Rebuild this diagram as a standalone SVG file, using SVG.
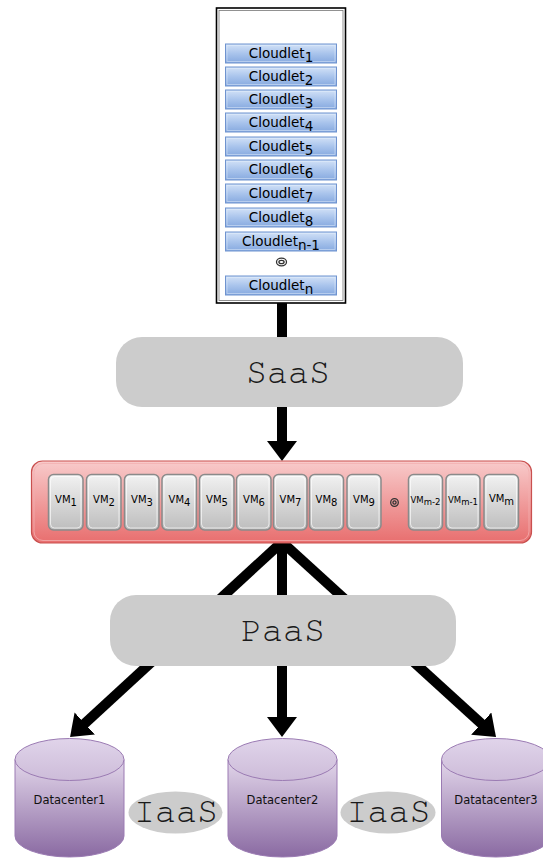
<svg xmlns="http://www.w3.org/2000/svg" width="543" height="858" viewBox="0 0 543 858">
  <defs>
    <linearGradient id="gCloudlet" x1="0" y1="0" x2="0" y2="1">
      <stop offset="0" stop-color="#d3e2f7"/>
      <stop offset="0.5" stop-color="#a9c4ec"/>
      <stop offset="1" stop-color="#86a9df"/>
    </linearGradient>
    <linearGradient id="gVmBar" x1="0" y1="0" x2="0" y2="1">
      <stop offset="0" stop-color="#f8cbcb"/>
      <stop offset="1" stop-color="#e86e6e"/>
    </linearGradient>
    <linearGradient id="gVm" x1="0" y1="0" x2="0" y2="1">
      <stop offset="0" stop-color="#f2f2f2"/>
      <stop offset="1" stop-color="#bdbdbd"/>
    </linearGradient>
    <linearGradient id="gDisk" x1="0" y1="0" x2="0" y2="1">
      <stop offset="0" stop-color="#e2d6ea"/>
      <stop offset="1" stop-color="#8a6aa2"/>
    </linearGradient>
    <linearGradient id="gDiskTop" x1="0" y1="0" x2="0" y2="1">
      <stop offset="0" stop-color="#e0d4ea"/>
      <stop offset="1" stop-color="#cdbcd9"/>
    </linearGradient>
    <!-- arrowhead: 30 wide, 20 long; the shaft stops 10px short of the tip -->
    <marker id="head" viewBox="0 0 20 30" refX="10" refY="15" markerWidth="2" markerHeight="3" markerUnits="strokeWidth" orient="auto">
      <path d="M0,0 L20,15 L0,30 Z" fill="#000"/>
    </marker>
    <style>
      .cl { fill: url(#gCloudlet); stroke: #6f93cf; stroke-width: 1; }
      .cli { fill: none; stroke: #e4eefb; stroke-width: 0.7; opacity: 0.7; }
      .clt { font-family: "DejaVu Sans", Verdana, sans-serif; font-size: 13.5px; fill: #000; text-anchor: middle; }
      .vm { fill: url(#gVm); stroke: #8a8a8a; stroke-width: 1.5; }
      .vmi { fill: none; stroke: #ffffff; stroke-width: 0.8; opacity: 0.8; }
      .vmt { font-family: "DejaVu Sans", Verdana, sans-serif; font-size: 10px; fill: #000; text-anchor: middle; }
      .vms { font-size: 8.5px; }
      .band { fill: #cccccc; }
      .mono { font-family: "FreeMono", "Nimbus Mono PS", "Courier New", "Liberation Mono", monospace; font-size: 35px; fill: #1a1a1a; text-anchor: middle; }
      .disk { fill: url(#gDisk); stroke: #9b7bb3; stroke-width: 1; }
      .diskTop { fill: url(#gDiskTop); stroke: #9b7bb3; stroke-width: 1; }
      .dct { font-family: "DejaVu Sans", Verdana, sans-serif; font-size: 11.5px; fill: #111; text-anchor: middle; }
      .wire { stroke: #000; stroke-width: 10; fill: none; }
      .dot { fill: none; stroke: #333; stroke-width: 1.3; }
    </style>
  </defs>

  <rect width="543" height="858" fill="#ffffff"/>

  <!-- connectors -->
  <g id="connectors">
    <line class="wire" x1="282" y1="302" x2="282" y2="340"/>
    <line class="wire" x1="282" y1="405" x2="282" y2="451" marker-end="url(#head)"/>
    <line class="wire" x1="282" y1="542" x2="282" y2="727" marker-end="url(#head)"/>
    <line class="wire" x1="282" y1="542" x2="77.4" y2="730.2" marker-end="url(#head)"/>
    <line class="wire" x1="282" y1="542" x2="488.6" y2="730.3" marker-end="url(#head)"/>
  </g>

  <!-- cloudlet list -->
  <g id="cloudlets">
    <rect x="216.5" y="8" width="129" height="295" fill="#fff" stroke="#000" stroke-width="1.6"/>
    <rect x="219" y="10.5" width="124" height="290" fill="none" stroke="#777" stroke-width="0.8"/>
    <g id="cloudlet1"><rect class="cl" x="225.5" y="44" width="111" height="19"/><rect class="cli" x="227" y="45.5" width="108" height="16"/><text class="clt" x="281" y="57.5">Cloudlet<tspan dy="4">1</tspan></text></g>
    <g id="cloudlet2"><rect class="cl" x="225.5" y="67" width="111" height="19"/><rect class="cli" x="227" y="68.5" width="108" height="16"/><text class="clt" x="281" y="80.5">Cloudlet<tspan dy="4">2</tspan></text></g>
    <g id="cloudlet3"><rect class="cl" x="225.5" y="90" width="111" height="19"/><rect class="cli" x="227" y="91.5" width="108" height="16"/><text class="clt" x="281" y="103.5">Cloudlet<tspan dy="4">3</tspan></text></g>
    <g id="cloudlet4"><rect class="cl" x="225.5" y="113" width="111" height="19"/><rect class="cli" x="227" y="114.5" width="108" height="16"/><text class="clt" x="281" y="126.5">Cloudlet<tspan dy="4">4</tspan></text></g>
    <g id="cloudlet5"><rect class="cl" x="225.5" y="137" width="111" height="19"/><rect class="cli" x="227" y="138.5" width="108" height="16"/><text class="clt" x="281" y="150.5">Cloudlet<tspan dy="4">5</tspan></text></g>
    <g id="cloudlet6"><rect class="cl" x="225.5" y="160" width="111" height="20"/><rect class="cli" x="227" y="161.5" width="108" height="17"/><text class="clt" x="281" y="174">Cloudlet<tspan dy="4">6</tspan></text></g>
    <g id="cloudlet7"><rect class="cl" x="225.5" y="184" width="111" height="19"/><rect class="cli" x="227" y="185.5" width="108" height="16"/><text class="clt" x="281" y="197.5">Cloudlet<tspan dy="4">7</tspan></text></g>
    <g id="cloudlet8"><rect class="cl" x="225.5" y="208" width="111" height="19"/><rect class="cli" x="227" y="209.5" width="108" height="16"/><text class="clt" x="281" y="221.5">Cloudlet<tspan dy="4">8</tspan></text></g>
    <g id="cloudletN1"><rect class="cl" x="225.5" y="232" width="111" height="19"/><rect class="cli" x="227" y="233.5" width="108" height="16"/><text class="clt" x="281" y="245.5">Cloudlet<tspan dy="4">n-1</tspan></text></g>
    <ellipse class="dot" cx="281.5" cy="262" rx="5" ry="3.8"/>
    <ellipse class="dot" cx="281.5" cy="262" rx="2.6" ry="1.7"/>
    <g id="cloudletN"><rect class="cl" x="225.5" y="276" width="111" height="19"/><rect class="cli" x="227" y="277.5" width="108" height="16"/><text class="clt" x="281" y="289.5">Cloudlet<tspan dy="4">n</tspan></text></g>
  </g>

  <!-- SaaS band -->
  <g id="saas">
    <rect class="band" x="116" y="337" width="347" height="70" rx="26"/>
    <text class="mono" x="288" y="383">SaaS</text>
  </g>

  <!-- VM pool -->
  <g id="vmpool">
    <rect x="31.5" y="461" width="500" height="82" rx="11" fill="url(#gVmBar)" stroke="#c9504f" stroke-width="1.2"/>
    <rect x="34" y="463.5" width="495" height="77" rx="9" fill="none" stroke="#f3b0b0" stroke-width="0.8"/>
    <g id="vm1"><rect class="vm" x="48.5" y="474.5" width="34.5" height="55.5" rx="5"/><rect class="vmi" x="50.5" y="476.5" width="30.5" height="51.5" rx="4"/><text class="vmt" x="66" y="503">VM<tspan dy="3">1</tspan></text></g>
    <g id="vm2"><rect class="vm" x="86.5" y="474.5" width="34.5" height="55.5" rx="5"/><rect class="vmi" x="88.5" y="476.5" width="30.5" height="51.5" rx="4"/><text class="vmt" x="104" y="503">VM<tspan dy="3">2</tspan></text></g>
    <g id="vm3"><rect class="vm" x="124.5" y="474.5" width="34.5" height="55.5" rx="5"/><rect class="vmi" x="126.5" y="476.5" width="30.5" height="51.5" rx="4"/><text class="vmt" x="142" y="503">VM<tspan dy="3">3</tspan></text></g>
    <g id="vm4"><rect class="vm" x="162" y="474.5" width="34.5" height="55.5" rx="5"/><rect class="vmi" x="164" y="476.5" width="30.5" height="51.5" rx="4"/><text class="vmt" x="179.5" y="503">VM<tspan dy="3">4</tspan></text></g>
    <g id="vm5"><rect class="vm" x="199.5" y="474.5" width="34.5" height="55.5" rx="5"/><rect class="vmi" x="201.5" y="476.5" width="30.5" height="51.5" rx="4"/><text class="vmt" x="217" y="503">VM<tspan dy="3">5</tspan></text></g>
    <g id="vm6"><rect class="vm" x="236.5" y="474.5" width="34.5" height="55.5" rx="5"/><rect class="vmi" x="238.5" y="476.5" width="30.5" height="51.5" rx="4"/><text class="vmt" x="254" y="503">VM<tspan dy="3">6</tspan></text></g>
    <g id="vm7"><rect class="vm" x="273.5" y="474.5" width="33.5" height="55.5" rx="5"/><rect class="vmi" x="275.5" y="476.5" width="29.5" height="51.5" rx="4"/><text class="vmt" x="290.5" y="503">VM<tspan dy="3">7</tspan></text></g>
    <g id="vm8"><rect class="vm" x="309.5" y="474.5" width="34" height="55.5" rx="5"/><rect class="vmi" x="311.5" y="476.5" width="30" height="51.5" rx="4"/><text class="vmt" x="326.5" y="503">VM<tspan dy="3">8</tspan></text></g>
    <g id="vm9"><rect class="vm" x="347" y="474.5" width="34" height="55.5" rx="5"/><rect class="vmi" x="349" y="476.5" width="30" height="51.5" rx="4"/><text class="vmt" x="364" y="503">VM<tspan dy="3">9</tspan></text></g>
    <circle class="dot" cx="394.5" cy="502.5" r="3.8"/>
    <circle class="dot" cx="394.5" cy="502.5" r="1.6"/>
    <g id="vmM2"><rect class="vm" x="408.5" y="474.5" width="34" height="55.5" rx="5"/><rect class="vmi" x="410.5" y="476.5" width="30" height="51.5" rx="4"/><text class="vmt vms" x="425.5" y="503">VM<tspan dy="2">m-2</tspan></text></g>
    <g id="vmM1"><rect class="vm" x="446" y="474.5" width="34" height="55.5" rx="5"/><rect class="vmi" x="448" y="476.5" width="30" height="51.5" rx="4"/><text class="vmt vms" x="463" y="503">VM<tspan dy="2">m-1</tspan></text></g>
    <g id="vmM"><rect class="vm" x="484" y="474.5" width="34.5" height="55.5" rx="5"/><rect class="vmi" x="486" y="476.5" width="30.5" height="51.5" rx="4"/><text class="vmt" x="501.5" y="502">VM<tspan dy="3">m</tspan></text></g>
  </g>

  <!-- PaaS band -->
  <g id="paas">
    <rect class="band" x="110" y="595" width="346" height="71" rx="26"/>
    <text class="mono" x="283" y="641">PaaS</text>
  </g>

  <!-- datacenters -->
  <g id="datacenter1">
    <path class="disk" d="M15,759.5 L15,836 A54.5,21 0 0 0 124,836 L124,759.5 Z"/>
    <ellipse class="diskTop" cx="69.5" cy="759.5" rx="54.5" ry="21"/>
    <text class="dct" x="69.5" y="804">Datacenter1</text>
  </g>
  <g id="datacenter2">
    <path class="disk" d="M228,759.5 L228,836 A54.5,21 0 0 0 337,836 L337,759.5 Z"/>
    <ellipse class="diskTop" cx="282.5" cy="759.5" rx="54.5" ry="21"/>
    <text class="dct" x="282.5" y="804">Datacenter2</text>
  </g>
  <g id="datacenter3">
    <path class="disk" d="M441.5,759.5 L441.5,836 A54.5,21 0 0 0 550.5,836 L550.5,759.5 Z"/>
    <ellipse class="diskTop" cx="496" cy="759.5" rx="54.5" ry="21"/>
    <text class="dct" x="496" y="804">Datatacenter3</text>
  </g>

  <!-- IaaS labels -->
  <g id="iaas1">
    <ellipse class="band" cx="175.5" cy="812.5" rx="47" ry="21"/>
    <text class="mono" x="176" y="822">IaaS</text>
  </g>
  <g id="iaas2">
    <ellipse class="band" cx="388" cy="812.5" rx="47.5" ry="21"/>
    <text class="mono" x="388.5" y="822">IaaS</text>
  </g>
</svg>
